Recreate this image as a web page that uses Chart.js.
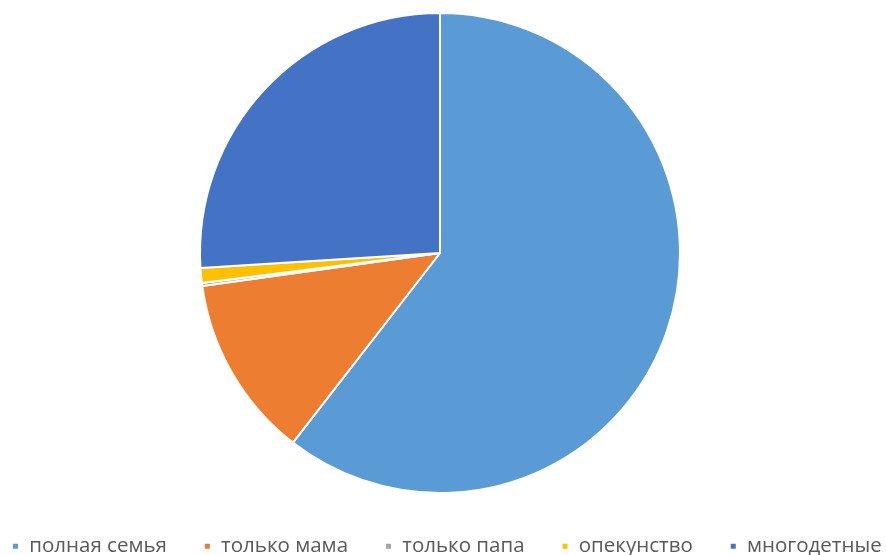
<!DOCTYPE html>
<html><head><meta charset="utf-8">
<script src="https://cdn.jsdelivr.net/npm/chart.js@4/dist/chart.umd.min.js"></script>
<style>html,body{margin:0;padding:0;background:#fff}#wrap{width:887px;height:555px}</style>
</head><body><div id="wrap"><canvas id="c" width="887" height="555"></canvas></div>
<script>
const categories = ['полная семья','только мама','только папа','опекунство','многодетные'];
const values = [60.5, 12.3, 0.2, 1.0, 26.0];
const colors = ['#5B9BD5','#ED7D31','#A5A5A5','#FFC000','#4472C4'];
const legendFit = {
  id: 'legendFit',
  beforeInit(chart) {
    const orig = chart.legend.fit;
    chart.legend.fit = function() { orig.call(this); this.height = 61; };
  },
  afterLayout(chart) {
    const lg = chart.legend;
    lg.left = -25; lg.right = 3000; lg.top += 5;
  }
};
new Chart(document.getElementById('c'), {
  type: 'pie',
  data: { labels: categories, datasets: [{ data: values, backgroundColor: colors, borderColor: '#fff', borderWidth: 2 }] },
  options: {
    responsive: false, animation: false,
    layout: { padding: { top: 12, left: 0, right: 7, bottom: 0 } },
    plugins: {
      tooltip: { enabled: false },
      legend: { position: 'bottom', align: 'start',
        labels: { boxWidth: 7, boxHeight: 7, padding: 37, color: '#595959',
          font: { family: 'Open Sans', size: 20.5 } } }
    }
  },
  plugins: [legendFit]
});
</script></body></html>
